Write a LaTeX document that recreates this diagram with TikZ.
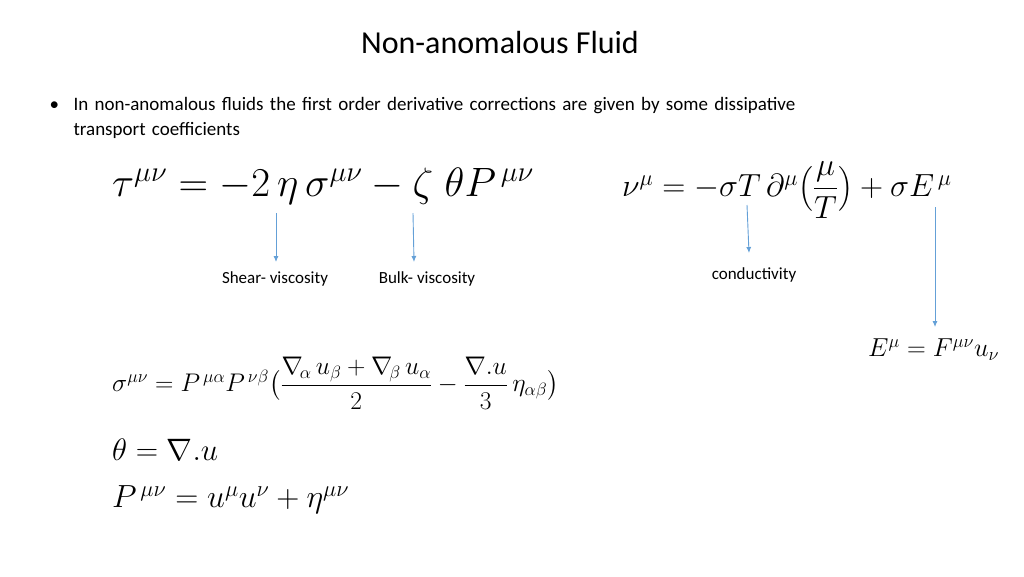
\documentclass[tikz,border=0pt]{standalone}
\usepackage{fix-cm}
\usepackage{amsmath}
\usepackage{fontspec}
\setmainfont{Carlito}
\usetikzlibrary{arrows.meta}
\begin{document}
\begin{tikzpicture}[x=1pt,y=-1pt,
  arr/.style={-{Latex[length=6pt,width=5pt]},draw=arrblue,line width=0.9pt},
  lab/.style={font=\fontsize{17}{19}\selectfont,anchor=center},
  eq/.style={anchor=west,inner sep=0pt}]
\definecolor{arrblue}{RGB}{100,160,215}
\useasboundingbox (0,0) rectangle (1024,576);
\node[font=\fontsize{32}{36}\selectfont] (title) at (500,43) {Non-anomalous Fluid};
\node[anchor=north west,align=left,font=\fontsize{19}{25}\selectfont,text width=820pt] (bul) at (46,94)
 {\makebox[24pt][l]{•}In non-anomalous fluids the first order derivative corrections are given by some dissipative\\\hspace*{24pt}transport coefficients};
\node[eq,font=\fontsize{41}{44}\selectfont] (e1) at (112,186) {$\tau^{\mu\nu}=-2\,\eta\,\sigma^{\mu\nu}-\zeta\;\theta P^{\,\mu\nu}$};
\node[eq,font=\fontsize{32}{34}\selectfont] (e2) at (622,190) {$\nu^{\mu}=-\sigma T\,\partial^{\mu}\bigl(\dfrac{\mu}{T}\bigr)+\sigma E^{\,\mu}$};
\coordinate (a1s) at (276,213); \coordinate (a1e) at (276,262);
\coordinate (a2s) at (413,213); \coordinate (a2e) at (414,262);
\coordinate (a3s) at (747,205); \coordinate (a3e) at (749,253);
\coordinate (a4s) at (935,207); \coordinate (a4e) at (935,327);
\draw[arr] (a1s) -- (a1e);
\draw[arr] (a2s) -- (a2e);
\draw[arr] (a3s) -- (a3e);
\draw[arr] (a4s) -- (a4e);
\node[lab] (l1) at (275,279) {Shear- viscosity};
\node[lab] (l2) at (427,279) {Bulk- viscosity};
\node[lab] (l3) at (754,275) {conductivity};
\node[eq,font=\fontsize{26}{28}\selectfont] (e3) at (868,350) {$E^{\mu}=F^{\mu\nu}u_{\nu}$};
\node[eq,font=\fontsize{25.5}{28}\selectfont] (e4) at (112,383) {$\sigma^{\mu\nu}=P^{\,\mu\alpha}P^{\,\nu\beta}\bigl(\dfrac{\nabla_{\!\alpha}\,u_{\beta}+\nabla_{\!\beta}\,u_{\alpha}}{2}-\dfrac{\nabla.u}{3}\,\eta_{\alpha\beta}\bigr)$};
\node[eq,font=\fontsize{31}{34}\selectfont] (e5) at (112,450) {$\theta=\nabla.u$};
\node[eq,font=\fontsize{32}{34}\selectfont] (e6) at (112,500) {$P^{\,\mu\nu}=u^{\mu}u^{\nu}+\eta^{\mu\nu}$};
\end{tikzpicture}
\end{document}
